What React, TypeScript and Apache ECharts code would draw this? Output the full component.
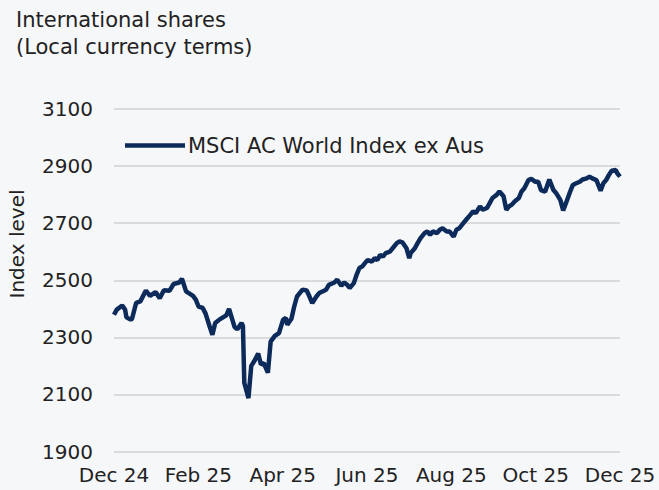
import React, { useEffect, useRef } from "react";
import * as echarts from "echarts";

const titleLines = ["International shares", "(Local currency terms)"];
const seriesName = "MSCI AC World Index ex Aus";
const yAxisName = "Index level";
const xTickLabels = ["Dec 24", "Feb 25", "Apr 25", "Jun 25", "Aug 25", "Oct 25", "Dec 25"];

// days since start of period
const days = [
  0, 2, 5, 6, 8, 9, 12, 13, 16, 19, 23, 26, 30, 33, 36, 40, 43, 47, 49, 52,
  57, 59, 61, 64, 66, 69, 71, 73, 76, 78, 81, 83, 87, 89, 92, 93, 94, 96, 97, 99,
  101, 104, 106, 108, 111, 113, 116, 119, 122, 124, 125, 128, 130, 132, 136, 139, 141, 143, 146, 148,
  150, 153, 155, 159, 161, 164, 166, 168, 170, 173, 175, 177, 179, 181, 183, 186, 188, 190, 192, 194,
  196, 199, 201, 204, 206, 208, 211, 213, 214, 217, 219, 221, 224, 226, 228, 230, 233, 235, 237, 240,
  242, 245, 247, 249, 252, 254, 257, 259, 261, 264, 266, 269, 271, 273, 276, 278, 281, 283, 285, 287,
  289, 292, 294, 296, 299, 301, 304, 306, 308, 311, 313, 314, 317, 319, 322, 324, 326, 329, 331, 333,
  336, 338, 341, 343, 345, 348, 351, 353, 355, 357, 359, 362, 363, 365,
];

const values = [
  2379, 2397, 2408, 2411, 2397, 2370, 2362, 2365, 2421, 2426, 2464, 2445, 2459, 2437, 2465, 2463, 2487, 2492, 2505, 2461,
  2445, 2432, 2408, 2403, 2384, 2338, 2309, 2350, 2362, 2368, 2377, 2400, 2336, 2328, 2350, 2340, 2140, 2105, 2087, 2200,
  2215, 2243, 2205, 2210, 2176, 2285, 2305, 2315, 2362, 2368, 2344, 2365, 2408, 2443, 2467, 2464, 2443, 2420, 2443, 2455,
  2460, 2467, 2484, 2492, 2502, 2481, 2492, 2485, 2473, 2490, 2519, 2543, 2548, 2560, 2571, 2565, 2577, 2571, 2589, 2583,
  2595, 2600, 2612, 2630, 2636, 2633, 2612, 2577, 2595, 2612, 2630, 2647, 2665, 2671, 2659, 2671, 2665, 2677, 2682, 2671,
  2671, 2653, 2677, 2682, 2700, 2712, 2729, 2741, 2735, 2759, 2747, 2753, 2770, 2788, 2799, 2811, 2794, 2747, 2759, 2765,
  2776, 2788, 2811, 2822, 2851, 2855, 2845, 2845, 2816, 2810, 2839, 2853, 2816, 2805, 2781, 2745, 2770, 2810, 2834, 2839,
  2845, 2853, 2857, 2863, 2857, 2851, 2814, 2840, 2851, 2869, 2884, 2886, 2875, 2863,
];

const FONT = "'DejaVu Sans', sans-serif";
const FS = 20;
const FS_BIG = 21;
const TEXT_COLOR = "#222222";
const LINE_COLOR = "#0c2a5a";

export default function App() {
  const ref = useRef<HTMLDivElement>(null);

  useEffect(() => {
    document.body.style.margin = "0";
    if (!ref.current) return;
    const chart = echarts.init(ref.current, undefined, { renderer: "svg" });
    const data = days.map((d, i) => [d, values[i]]);
    const step = 365 / (xTickLabels.length - 1);
    chart.setOption({
      animation: false,
      backgroundColor: "#f6f7f9",
      textStyle: { fontFamily: FONT },
      grid: { left: 114, right: 39, top: 109, bottom: 38.5, containLabel: false },
      graphic: [
        {
          type: "text",
          left: 16,
          top: 6,
          style: {
            text: titleLines.join("\n"),
            font: `${FS_BIG}px ${FONT}`,
            fill: TEXT_COLOR,
            lineHeight: 27,
          },
        },
        {
          type: "text",
          x: 17,
          y: 244,
          rotation: Math.PI / 2,
          style: {
            text: yAxisName,
            font: `${FS}px ${FONT}`,
            fill: TEXT_COLOR,
            align: "center",
            verticalAlign: "middle",
          },
        },
      ],
      legend: {
        left: 120,
        top: 130,
        icon: "rect",
        itemWidth: 60,
        itemHeight: 4.5,
        itemGap: 4,
        textStyle: { fontSize: FS_BIG, color: TEXT_COLOR, fontFamily: FONT, padding: [0, 0, 0, -2] },
        data: [seriesName],
      },
      xAxis: {
        type: "value",
        min: 0,
        max: 365,
        interval: step,
        axisLine: { show: false },
        axisTick: { show: false },
        splitLine: { show: false },
        axisLabel: {
          fontSize: FS,
          color: TEXT_COLOR,
          margin: 13,
          showMinLabel: true,
          showMaxLabel: true,
          formatter: (v: number) => xTickLabels[Math.round(v / step)] ?? "",
        },
      },
      yAxis: {
        type: "value",
        min: 1900,
        max: 3100,
        interval: 200,
        axisLine: { show: false },
        axisTick: { show: false },
        splitLine: { lineStyle: { color: "#cfd0d2", width: 1.5 } },
        axisLabel: {
          fontSize: FS,
          color: TEXT_COLOR,
          margin: 21,
          formatter: (v: number) => String(v),
        },
      },
      series: [
        {
          name: seriesName,
          type: "line",
          data,
          showSymbol: false,
          symbol: "none",
          lineStyle: { color: LINE_COLOR, width: 4.5 },
          itemStyle: { color: LINE_COLOR },
        },
      ],
    });
    return () => chart.dispose();
  }, []);

  return <div ref={ref} style={{ width: 659, height: 490 }} />;
}
